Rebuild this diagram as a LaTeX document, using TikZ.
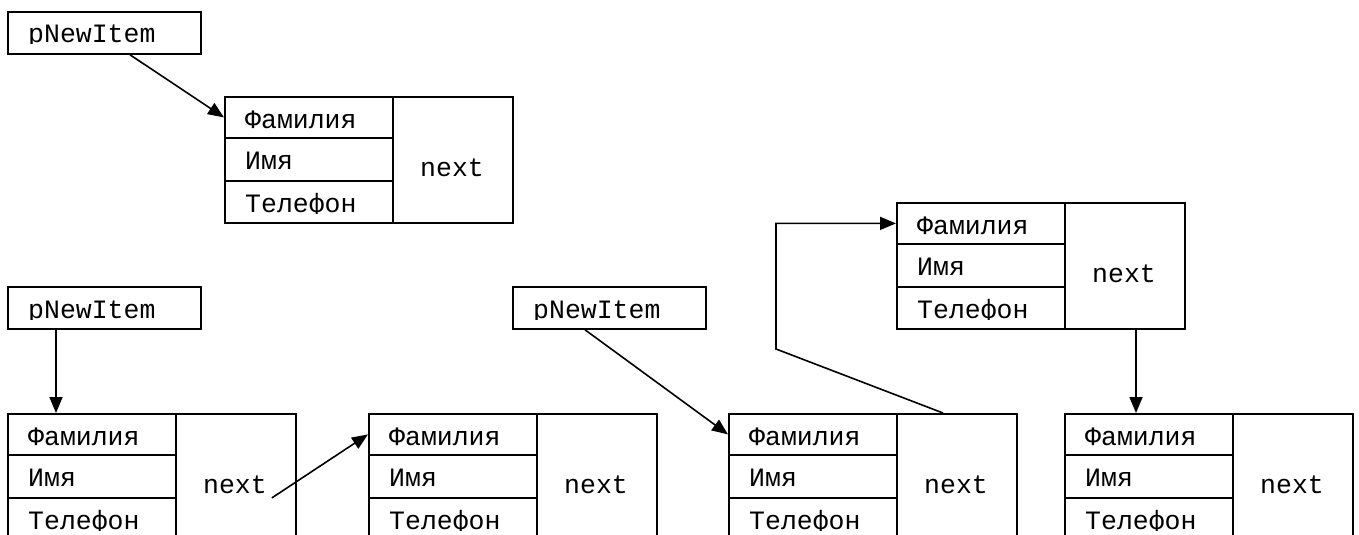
\documentclass[tikz,border=0pt]{standalone}
\usepackage{fontspec}
\newfontfamily\mono{Liberation Mono}
\usetikzlibrary{arrows.meta}

\tikzset{
  x=1pt, y=-1pt,
  cell/.style={draw, line width=1.8pt, inner sep=0pt, anchor=north west},
  lab/.style={inner sep=0pt, font=\mono\fontsize{26.5}{30}\selectfont},
  arr/.style={line width=1.6pt, -{Triangle[length=16pt, width=13pt]}},
  link/.style={line width=1.6pt},
}

% one-line pointer box: name, left, top
\newcommand\ptrbox[3]{%
  \node[cell, minimum width=193pt, minimum height=42pt] (#1) at (#2,#3) {};
  \begin{scope}
    \clip (#2,#3) rectangle (#2+193,#3+33);
    \node[lab, anchor=base west] (#1-txt) at (#2+21,#3+32) {pNewItem};
  \end{scope}}

% clipped field label: name, left, top, text
\newcommand\fieldlab[4]{%
  \begin{scope}
    \clip (#2,#3) rectangle (#2+168,#3+33);
    \node[lab, anchor=base west] (#1) at (#2+21,#3+32) {#4};
  \end{scope}}

% list item record: name, left, top
\newcommand\rec[3]{%
  \node[cell, minimum width=168pt, minimum height=41pt] (#1-f) at (#2,#3) {};
  \node[cell, minimum width=168pt, minimum height=43pt] (#1-i) at (#2,#3+41) {};
  \node[cell, minimum width=168pt, minimum height=42pt] (#1-t) at (#2,#3+84) {};
  \node[cell, minimum width=120pt, minimum height=126pt] (#1-n) at (#2+168,#3) {};
  \node[inner sep=0pt, minimum width=288pt, minimum height=126pt, anchor=north west] (#1) at (#2,#3) {};
  \fieldlab{#1-fl}{#2}{#3}{Фамилия}
  \fieldlab{#1-il}{#2}{#3+41}{Имя}
  \fieldlab{#1-tl}{#2}{#3+84}{Телефон}
  \node[lab, anchor=base] (#1-nl) at (#2+228,#3+80) {next};}

\begin{document}
\begin{tikzpicture}
  \clip (0,0) rectangle (1359,535);
  \fill[white] (0,0) rectangle (1359,535);

  % new item created
  \ptrbox{p1}{7}{11}
  \rec{r0}{224}{96}
  \draw[arr] ([xshift=123pt]p1.south west) -- (r0-f.west);

  % list before insertion
  \ptrbox{p2}{7}{286}
  \rec{b1}{7}{413}
  \rec{b2}{368}{413}
  \draw[arr] ([xshift=49pt]p2.south west) -- ([xshift=49pt]p2.south west |- b1.north);
  \coordinate (s1) at ([shift={(36,21)}]b1-n.center);
  \draw[arr] (s1) -- (b2-f.west);

  % insertion after the item
  \ptrbox{p3}{512}{286}
  \rec{b3}{728}{413}
  \rec{up}{896}{202}
  \rec{b4}{1064}{413}
  \draw[arr] ([xshift=73pt]p3.south west) -- (b3-f.west);
  \coordinate (bend) at (776,349);
  \draw[arr] ([xshift=47pt]b3-n.north west) -- (bend) |- (up-f.west);
  \draw[arr] ([xshift=72pt]up-n.south west) -- ([xshift=72pt]up-n.south west |- b4.north);
\end{tikzpicture}
\end{document}
